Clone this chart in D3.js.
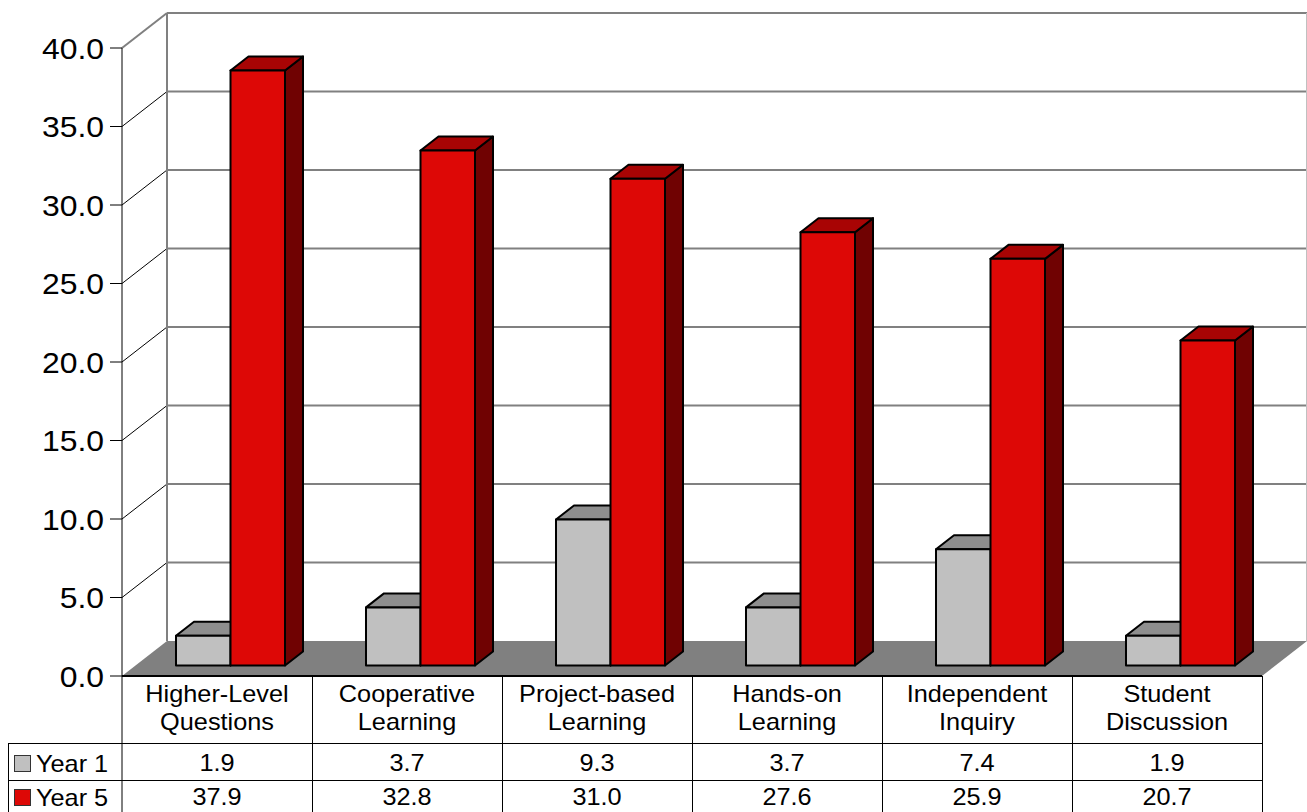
<!DOCTYPE html>
<html>
<head>
<meta charset="utf-8">
<script src="https://cdn.jsdelivr.net/npm/d3@7"></script>
<style>
  html, body { margin: 0; padding: 0; background: #fff; }
  svg { display: block; font-family: "Liberation Sans", Arial, sans-serif; }
</style>
</head>
<body>
<svg id="chart" width="1307" height="812"></svg>
<script>
// Teaching strategies, Year 1 vs Year 5
const categories = ["Higher-Level\nQuestions", "Cooperative\nLearning", "Project-based\nLearning",
                    "Hands-on\nLearning", "Independent\nInquiry", "Student\nDiscussion"];
const seriesNames = ["Year 1", "Year 5"];
const year1 = [1.9, 3.7, 9.3, 3.7, 7.4, 1.9];
const year5 = [37.9, 32.8, 31.0, 27.6, 25.9, 20.7];
const yTicks = [0, 5, 10, 15, 20, 25, 30, 35, 40];

const seriesValues = [year1, year5];
const palette = {
  "Year 1": { front: "#c0c0c0", top: "#8e8e8e", side: "#606060" },
  "Year 5": { front: "#dd0806", top: "#a80404", side: "#700202" }
};

const svg = d3.select("#chart");

// text drawn slightly wide, as in the original export
const WIDE = 1.1;
function label(parent, px, py, str, size, anchor) {
  return parent.append("text")
    .attr("transform", `translate(${px},${py}) scale(${WIDE},1)`)
    .attr("text-anchor", anchor).attr("font-size", size).attr("fill", "#000")
    .text(str);
}

// oblique projection: depth z in [0,1] shifts right and up
const DX = 45, DY = 35;
const y = d3.scaleLinear().domain([0, 40]).range([676, 48]);
const x = d3.scaleBand().domain(categories).range([122, 1262]);
const xs = d3.scaleBand().domain(seriesNames).range([0, x.bandwidth()]).paddingOuter(0.743);
const P = (px, v, z) => [px + z * DX, y(v) - z * DY];
const poly = pts => pts.map(p => p.join(",")).join(" ");

const x0 = x.range()[0], x1 = x.range()[1];
const vMax = y.domain()[1];

// walls
svg.append("polygon")
  .attr("points", poly([P(x0, 0, 0), P(x0, vMax, 0), P(x0, vMax, 1), P(x0, 0, 1)]))
  .attr("fill", "#fff");
svg.append("polygon")
  .attr("points", poly([P(x0, 0, 1), P(x0, vMax, 1), P(x1, vMax, 1), P(x1, 0, 1)]))
  .attr("fill", "#fff");

// back-wall gridlines and side-wall diagonals
yTicks.filter(t => t > 0).forEach(t => {
  const a = P(x0, t, 1), b = P(x1, t, 1), c = P(x0, t, 0);
  svg.append("line")
    .attr("x1", a[0]).attr("y1", a[1]).attr("x2", b[0]).attr("y2", b[1])
    .attr("stroke", "#808080").attr("stroke-width", 2);
  svg.append("line")
    .attr("x1", c[0]).attr("y1", c[1]).attr("x2", a[0]).attr("y2", a[1])
    .attr("stroke", t === vMax ? "#808080" : "#000")
    .attr("stroke-width", t === vMax ? 2 : 1);
});
{
  const a = P(x0, 0, 1), b = P(x0, vMax, 1);
  svg.append("line").attr("x1", a[0]).attr("y1", a[1]).attr("x2", b[0]).attr("y2", b[1])
    .attr("stroke", "#808080").attr("stroke-width", 2);
  const c = P(x1, 0, 1), d = P(x1, vMax, 1);
  svg.append("line").attr("x1", c[0] - 0.5).attr("y1", c[1]).attr("x2", d[0] - 0.5).attr("y2", d[1])
    .attr("stroke", "#c0c0c0").attr("stroke-width", 1);
}

// floor
svg.append("polygon")
  .attr("points", poly([P(x0, 0, 0), P(x1, 0, 0), P(x1, 0, 1), P(x0, 0, 1)]))
  .attr("fill", "#808080");

// bars
const zf = 0.3, zb = 0.7;
categories.forEach((cat, i) => {
  seriesNames.forEach((s, j) => {
    const v = seriesValues[j][i];
    const l = x(cat) + xs(s), r = l + xs.bandwidth();
    const g = svg.append("g").attr("stroke", "#000").attr("stroke-width", 2).attr("stroke-linejoin", "round");
    g.append("polygon").attr("fill", palette[s].side)
      .attr("points", poly([P(r, 0, zf), P(r, v, zf), P(r, v, zb), P(r, 0, zb)]));
    g.append("polygon").attr("fill", palette[s].top)
      .attr("points", poly([P(l, v, zf), P(r, v, zf), P(r, v, zb), P(l, v, zb)]));
    g.append("polygon").attr("fill", palette[s].front)
      .attr("points", poly([P(l, 0, zf), P(r, 0, zf), P(r, v, zf), P(l, v, zf)]));
  });
});

// value axis
svg.append("line").attr("x1", x0).attr("y1", y(vMax)).attr("x2", x0).attr("y2", 812)
  .attr("stroke", "#000").attr("stroke-width", 1);
yTicks.forEach(t => {
  svg.append("line").attr("x1", 110).attr("x2", x0).attr("y1", y(t)).attr("y2", y(t))
    .attr("stroke", "#000").attr("stroke-width", 1);
  label(svg, 104, y(t) + 10.5, t.toFixed(1), 29, "end");
});

// data table
const rowTop = [676, 743, 780, 817];
const tbl = svg.append("g").attr("stroke", "#000").attr("stroke-width", 1);
tbl.append("line").attr("x1", x0).attr("x2", x1).attr("y1", rowTop[0]).attr("y2", rowTop[0]).attr("stroke-width", 2);
[rowTop[1], rowTop[2]].forEach(yy =>
  tbl.append("line").attr("x1", 8).attr("x2", x1).attr("y1", yy + 0.5).attr("y2", yy + 0.5));
tbl.append("line").attr("x1", 8.5).attr("x2", 8.5).attr("y1", rowTop[1]).attr("y2", 812);
categories.forEach(cat => {
  const xx = x(cat) + x.bandwidth();
  tbl.append("line").attr("x1", xx + 0.5).attr("x2", xx + 0.5).attr("y1", rowTop[0]).attr("y2", 812);
});

categories.forEach(cat => {
  const cx = x(cat) + x.bandwidth() / 2;
  cat.split("\n").forEach((ln, k) => label(svg, cx, 702 + k * 28, ln, 23, "middle"));
});

const rowBase = [771, 805];
seriesNames.forEach((s, j) => {
  categories.forEach((cat, i) => {
    label(svg, x(cat) + x.bandwidth() / 2, rowBase[j], seriesValues[j][i].toFixed(1), 23, "middle");
  });
  svg.append("rect").attr("x", 14.5).attr("y", rowBase[j] - 15.5).attr("width", 16).attr("height", 16)
    .attr("fill", palette[s].front).attr("stroke", "#333").attr("stroke-width", 1);
  label(svg, 36, rowBase[j] + 1, s, 23, "start");
});
</script>
</body>
</html>
